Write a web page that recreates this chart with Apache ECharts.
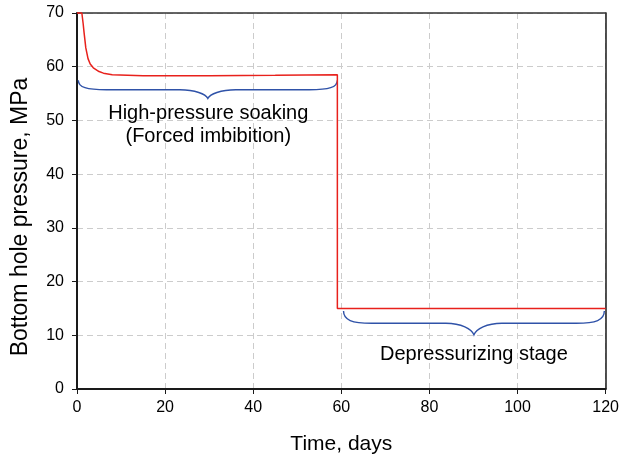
<!DOCTYPE html>
<html><head><meta charset="utf-8">
<script src="https://cdn.jsdelivr.net/npm/echarts@6/dist/echarts.min.js"></script>
<style>html,body{margin:0;padding:0;background:#fff}#c{width:622px;height:460px}</style>
</head><body><div id="c"></div>
<script>
var timeDays = [0, 1.1, 1.4, 1.6, 2.0, 2.5, 3.0, 3.7, 5.0, 6.0, 8.0, 15, 30, 45, 59.1, 59.1, 120];
var pressure = [70, 70, 68, 66.4, 63.5, 61.5, 60.5, 59.8, 59.1, 58.8, 58.5, 58.3, 58.3, 58.4, 58.5, 15, 15];
var xTicks = [0, 20, 40, 60, 80, 100, 120];
var yTicks = [0, 10, 20, 30, 40, 50, 60, 70];
// braces: [xStart, xEnd, yEnds, yFlat, yTip]
var braces = [[0.3, 59.1, 57.5, 55.7, 54.1], [60.5, 119.7, 14.5, 12.25, 10.1]];
var labelX = [29.8, 90.1];
var labelY = [49.1, 6.5];
var labelText = ['High-pressure soaking\n(Forced imbibition)', 'Depressurizing stage'];
var FONT = '"Liberation Sans", Arial, sans-serif';
var axisCommon = function (extra) {
  return Object.assign({
    type: 'value',
    axisLine: {show: true, lineStyle: {color: '#1a1a1a', width: 2}},
    axisTick: {show: true, length: 5, lineStyle: {color: '#1a1a1a'}},
    splitLine: {show: true, lineStyle: {color: '#cccccc', type: [6, 4]}}
  }, extra);
};
var chart = echarts.init(document.getElementById('c'));
chart.setOption({
  animation: false,
  grid: {left: 77, right: 13, top: 13, bottom: 70},
  xAxis: [
    axisCommon({
      min: 0, max: 120, interval: 20,
      name: 'Time, days', nameLocation: 'middle', nameGap: 45,
      nameTextStyle: {fontFamily: FONT, fontSize: 21, color: '#000'},
      axisLabel: {fontFamily: FONT, fontSize: 16, color: '#000', margin: 11}
    }),
    {type: 'value', position: 'top', min: 0, max: 120, interval: 20,
     axisLine: {show: true, onZero: false, lineStyle: {color: '#333', width: 1.5}},
     axisTick: {show: false}, axisLabel: {show: false}, splitLine: {show: false}}
  ],
  yAxis: [
    axisCommon({
      min: 0, max: 70, interval: 10,
      name: 'Bottom hole pressure, MPa', nameLocation: 'middle', nameGap: 45,
      nameTextStyle: {fontFamily: FONT, fontSize: 23, color: '#000', padding: [0, 32, 0, 0]},
      axisLabel: {fontFamily: FONT, fontSize: 16, color: '#000', margin: 13}
    }),
    {type: 'value', position: 'right', min: 0, max: 70, interval: 10,
     axisLine: {show: true, onZero: false, lineStyle: {color: '#1a1a1a', width: 1.5}},
     axisTick: {show: false}, axisLabel: {show: false}, splitLine: {show: false}}
  ],
  series: [
    {
      type: 'line', data: timeDays.map(function (t, i) { return [t, pressure[i]]; }),
      showSymbol: false, symbol: 'none', lineStyle: {color: '#e8211c', width: 1.5}, z: 5, clip: false
    },
    {
      type: 'custom', data: braces, clip: false, z: 4,
      renderItem: function (params, api) {
        var x0 = api.value(0), x1 = api.value(1), ye = api.value(2), yf = api.value(3), yt = api.value(4);
        var xm = (x0 + x1) / 2;
        var pA = api.coord([x0, ye]), pB = api.coord([x1, ye]);
        var pM = api.coord([xm, yt]);
        var yF = api.coord([x0, yf])[1];
        var q = 28;
        var dy1 = yF - pA[1], dt = pM[1] - yF;
        var d = 'M' + pA[0] + ',' + pA[1] +
          ' C' + pA[0] + ',' + (pA[1] + 0.75 * dy1) + ' ' + (pA[0] + 0.3 * q) + ',' + yF + ' ' + (pA[0] + q) + ',' + yF +
          ' L' + (pM[0] - q) + ',' + yF +
          ' C' + (pM[0] - 0.45 * q) + ',' + yF + ' ' + (pM[0] - 0.08 * q) + ',' + (yF + 0.5 * dt) + ' ' + pM[0] + ',' + pM[1] +
          ' C' + (pM[0] + 0.08 * q) + ',' + (yF + 0.5 * dt) + ' ' + (pM[0] + 0.45 * q) + ',' + yF + ' ' + (pM[0] + q) + ',' + yF +
          ' L' + (pB[0] - q) + ',' + yF +
          ' C' + (pB[0] - 0.3 * q) + ',' + yF + ' ' + pB[0] + ',' + (pB[1] + 0.75 * dy1) + ' ' + pB[0] + ',' + pB[1];
        return {type: 'path', shape: {pathData: d}, style: {fill: null, stroke: '#2f52a8', lineWidth: 1.4}};
      }
    },
    {
      type: 'custom', data: labelX.map(function (x, i) { return [x, labelY[i]]; }), z: 6,
      renderItem: function (params, api) {
        var p = api.coord([api.value(0), api.value(1)]);
        return {type: 'text', x: p[0], y: p[1], style: {text: labelText[params.dataIndex], fontFamily: FONT, fontSize: 20, fill: '#000', align: 'center', verticalAlign: 'middle', lineHeight: 23}};
      }
    }
  ]
});
</script></body></html>
